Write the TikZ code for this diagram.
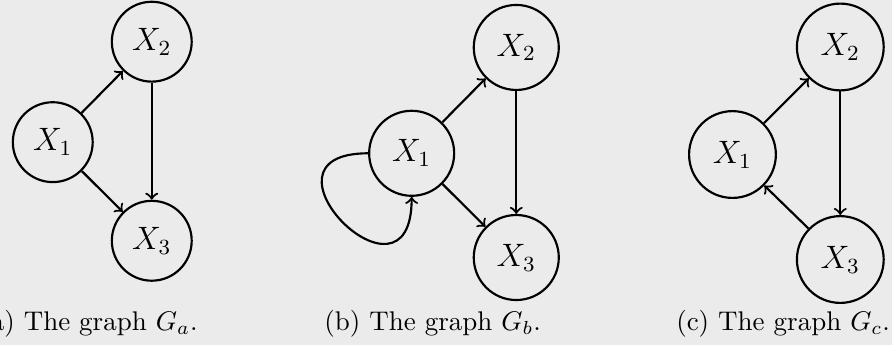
\documentclass[tikz,border=0pt]{standalone}
\usepackage{tikz}
\usepackage{xcolor}
\definecolor{bggray}{RGB}{235,235,235}

\begin{document}
\begin{tikzpicture}[
    var/.style={circle, draw, thick, inner sep=0pt, font=\large},
    arrow/.style={->, thick},
    caption/.style={anchor=base east, inner sep=0pt}
]

% Background
\fill[bggray] (0,0) rectangle (11.614,-4.492);
\useasboundingbox (0,0) rectangle (11.614,-4.492);

% Graph a
\node[var, minimum size=1.04cm] (a1) at (0.687,-1.851) {$X_1$};
\node[var, minimum size=1.04cm] (a2) at (1.976,-0.543) {$X_2$};
\node[var, minimum size=1.04cm] (a3) at (1.976,-3.135) {$X_3$};
\node[caption] (capa) at (2.58,-4.297) {(a) The graph $G_a$.};

% Graph b
\node[var, minimum size=1.107cm] (b1) at (5.360,-1.996) {$X_1$};
\node[var, minimum size=1.107cm] (b2) at (6.722,-0.618) {$X_2$};
\node[var, minimum size=1.107cm] (b3) at (6.722,-3.353) {$X_3$};
\node[caption] (capb) at (7.050,-4.297) {(b) The graph $G_b$.};

% Graph c
\node[var, minimum size=1.13cm] (c1) at (9.537,-2.012) {$X_1$};
\node[var, minimum size=1.13cm] (c2) at (10.941,-0.612) {$X_2$};
\node[var, minimum size=1.13cm] (c3) at (10.941,-3.379) {$X_3$};
\node[caption] (capc) at (11.595,-4.297) {(c) The graph $G_c$.};

% Arrows
\draw[arrow] (a1) -- (a2);
\draw[arrow] (a1) -- (a3);
\draw[arrow] (a2) -- (a3);

\draw[arrow] (b1) -- (b2);
\draw[arrow] (b1) -- (b3);
\draw[arrow] (b2) -- (b3);
\draw[arrow] (b1.west) to[out=180, in=270, looseness=5.2] (b1.south);

\draw[arrow] (c1) -- (c2);
\draw[arrow] (c2) -- (c3);
\draw[arrow] (c3) -- (c1);

\end{tikzpicture}
\end{document}
